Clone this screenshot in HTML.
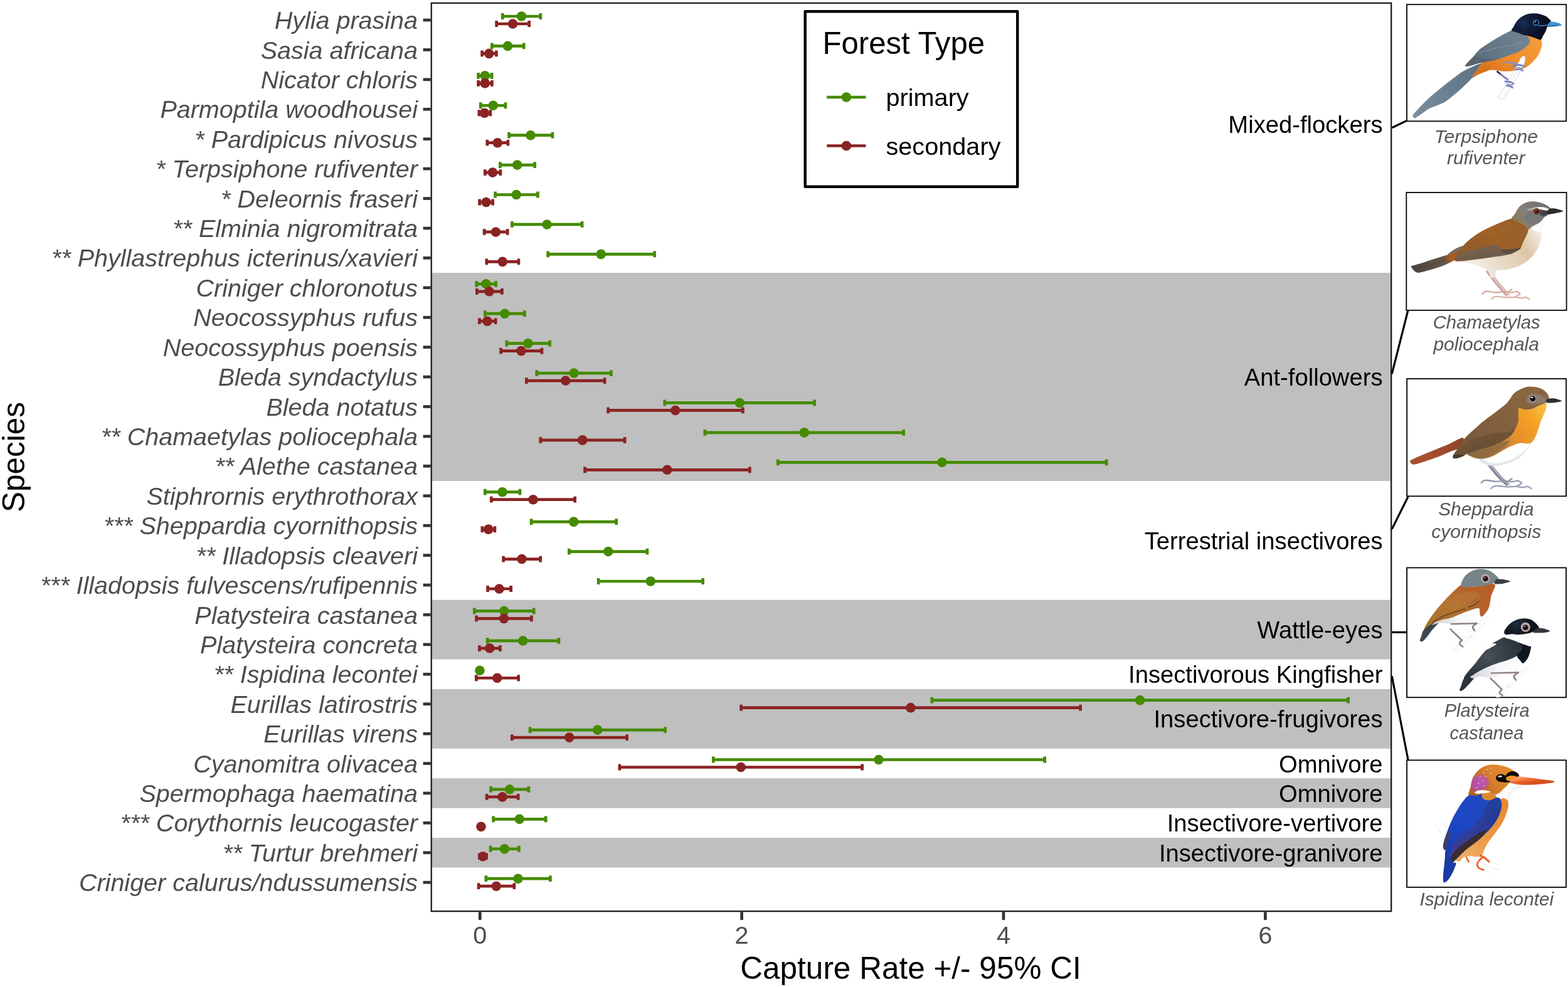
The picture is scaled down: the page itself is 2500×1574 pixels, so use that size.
<!DOCTYPE html>
<html lang="en"><head><meta charset="utf-8"><title>Capture Rate by Species and Forest Type</title>
<style>html,body{margin:0;padding:0;background:#fff;}body{width:2500px;height:1574px;overflow:hidden;}svg{display:block;}text{font-family:"Liberation Sans", sans-serif;}.sp{font-size:39.5px;font-style:italic;fill:#4d4d4d;text-anchor:end;}.tk{font-size:39.5px;fill:#4d4d4d;text-anchor:middle;}.gl{font-size:38.2px;fill:#000;text-anchor:end;}.ax{font-size:49.5px;fill:#000;text-anchor:middle;}.cap{font-size:29.5px;font-style:italic;fill:#555;text-anchor:middle;}</style></head><body>
<svg width="2500" height="1574" viewBox="0 0 2500 1574">
<rect x="0" y="0" width="2500" height="1574" fill="#fff"/>
<g fill="#bfbfbf">
<rect x="687.75" y="435.07" width="1530.45" height="331.94"/>
<rect x="687.75" y="956.69" width="1530.45" height="94.84"/>
<rect x="687.75" y="1098.95" width="1530.45" height="94.84"/>
<rect x="687.75" y="1241.21" width="1530.45" height="47.42"/>
<rect x="687.75" y="1336.05" width="1530.45" height="47.42"/>
</g>
<g>
<path d="M801.25 26.00H861.85M801.25 21.10V30.90M861.85 21.10V30.90" stroke="#458B00" stroke-width="4.7" fill="none"/><circle cx="831.50" cy="26.00" r="7.8" fill="#458B00"/>
<path d="M791.65 38.00H843.65M791.65 33.10V42.90M843.65 33.10V42.90" stroke="#8B2323" stroke-width="4.7" fill="none"/><circle cx="817.60" cy="38.00" r="7.8" fill="#8B2323"/>
<path d="M784.35 73.42H835.15M784.35 68.52V78.32M835.15 68.52V78.32" stroke="#458B00" stroke-width="4.7" fill="none"/><circle cx="809.50" cy="73.42" r="7.8" fill="#458B00"/>
<path d="M768.60 85.42H791.40M768.60 80.52V90.32M791.40 80.52V90.32" stroke="#8B2323" stroke-width="4.7" fill="none"/><circle cx="779.75" cy="85.42" r="7.8" fill="#8B2323"/>
<path d="M762.60 120.84H784.15M762.60 115.94V125.74M784.15 115.94V125.74" stroke="#458B00" stroke-width="4.7" fill="none"/><circle cx="773.25" cy="120.84" r="7.8" fill="#458B00"/>
<path d="M762.60 132.84H784.40M762.60 127.94V137.74M784.40 127.94V137.74" stroke="#8B2323" stroke-width="4.7" fill="none"/><circle cx="773.25" cy="132.84" r="7.8" fill="#8B2323"/>
<path d="M766.35 168.26H805.90M766.35 163.36V173.16M805.90 163.36V173.16" stroke="#458B00" stroke-width="4.7" fill="none"/><circle cx="786.25" cy="168.26" r="7.8" fill="#458B00"/>
<path d="M763.85 180.26H781.90M763.85 175.36V185.16M781.90 175.36V185.16" stroke="#8B2323" stroke-width="4.7" fill="none"/><circle cx="772.50" cy="180.26" r="7.8" fill="#8B2323"/>
<path d="M811.60 215.68H880.90M811.60 210.78V220.58M880.90 210.78V220.58" stroke="#458B00" stroke-width="4.7" fill="none"/><circle cx="846.00" cy="215.68" r="7.8" fill="#458B00"/>
<path d="M776.85 227.68H809.90M776.85 222.78V232.58M809.90 222.78V232.58" stroke="#8B2323" stroke-width="4.7" fill="none"/><circle cx="793.25" cy="227.68" r="7.8" fill="#8B2323"/>
<path d="M797.35 263.10H852.65M797.35 258.20V268.00M852.65 258.20V268.00" stroke="#458B00" stroke-width="4.7" fill="none"/><circle cx="824.75" cy="263.10" r="7.8" fill="#458B00"/>
<path d="M773.35 275.10H797.90M773.35 270.20V280.00M797.90 270.20V280.00" stroke="#8B2323" stroke-width="4.7" fill="none"/><circle cx="785.50" cy="275.10" r="7.8" fill="#8B2323"/>
<path d="M789.60 310.52H857.40M789.60 305.62V315.42M857.40 305.62V315.42" stroke="#458B00" stroke-width="4.7" fill="none"/><circle cx="823.25" cy="310.52" r="7.8" fill="#458B00"/>
<path d="M764.60 322.52H785.65M764.60 317.62V327.42M785.65 317.62V327.42" stroke="#8B2323" stroke-width="4.7" fill="none"/><circle cx="775.00" cy="322.52" r="7.8" fill="#8B2323"/>
<path d="M816.45 357.94H928.05M816.45 353.04V362.84M928.05 353.04V362.84" stroke="#458B00" stroke-width="4.7" fill="none"/><circle cx="872.10" cy="357.94" r="7.8" fill="#458B00"/>
<path d="M772.10 369.94H809.15M772.10 365.04V374.84M809.15 365.04V374.84" stroke="#8B2323" stroke-width="4.7" fill="none"/><circle cx="790.50" cy="369.94" r="7.8" fill="#8B2323"/>
<path d="M873.60 405.36H1043.65M873.60 400.46V410.26M1043.65 400.46V410.26" stroke="#458B00" stroke-width="4.7" fill="none"/><circle cx="958.25" cy="405.36" r="7.8" fill="#458B00"/>
<path d="M775.85 417.36H826.90M775.85 412.46V422.26M826.90 412.46V422.26" stroke="#8B2323" stroke-width="4.7" fill="none"/><circle cx="801.25" cy="417.36" r="7.8" fill="#8B2323"/>
<path d="M759.85 452.78H790.65M759.85 447.88V457.68M790.65 447.88V457.68" stroke="#458B00" stroke-width="4.7" fill="none"/><circle cx="775.00" cy="452.78" r="7.8" fill="#458B00"/>
<path d="M760.35 464.78H800.40M760.35 459.88V469.68M800.40 459.88V469.68" stroke="#8B2323" stroke-width="4.7" fill="none"/><circle cx="780.00" cy="464.78" r="7.8" fill="#8B2323"/>
<path d="M773.35 500.20H836.40M773.35 495.30V505.10M836.40 495.30V505.10" stroke="#458B00" stroke-width="4.7" fill="none"/><circle cx="804.75" cy="500.20" r="7.8" fill="#458B00"/>
<path d="M764.35 512.20H790.15M764.35 507.30V517.10M790.15 507.30V517.10" stroke="#8B2323" stroke-width="4.7" fill="none"/><circle cx="777.00" cy="512.20" r="7.8" fill="#8B2323"/>
<path d="M807.85 547.62H876.65M807.85 542.72V552.52M876.65 542.72V552.52" stroke="#458B00" stroke-width="4.7" fill="none"/><circle cx="842.00" cy="547.62" r="7.8" fill="#458B00"/>
<path d="M798.60 559.62H863.90M798.60 554.72V564.52M863.90 554.72V564.52" stroke="#8B2323" stroke-width="4.7" fill="none"/><circle cx="831.00" cy="559.62" r="7.8" fill="#8B2323"/>
<path d="M855.85 595.04H974.40M855.85 590.14V599.94M974.40 590.14V599.94" stroke="#458B00" stroke-width="4.7" fill="none"/><circle cx="915.00" cy="595.04" r="7.8" fill="#458B00"/>
<path d="M839.35 607.04H964.15M839.35 602.14V611.94M964.15 602.14V611.94" stroke="#8B2323" stroke-width="4.7" fill="none"/><circle cx="901.75" cy="607.04" r="7.8" fill="#8B2323"/>
<path d="M1059.85 642.46H1298.65M1059.85 637.56V647.36M1298.65 637.56V647.36" stroke="#458B00" stroke-width="4.7" fill="none"/><circle cx="1179.25" cy="642.46" r="7.8" fill="#458B00"/>
<path d="M969.60 654.46H1184.40M969.60 649.56V659.36M1184.40 649.56V659.36" stroke="#8B2323" stroke-width="4.7" fill="none"/><circle cx="1076.75" cy="654.46" r="7.8" fill="#8B2323"/>
<path d="M1123.85 689.88H1440.65M1123.85 684.98V694.78M1440.65 684.98V694.78" stroke="#458B00" stroke-width="4.7" fill="none"/><circle cx="1282.25" cy="689.88" r="7.8" fill="#458B00"/>
<path d="M861.85 701.88H996.15M861.85 696.98V706.78M996.15 696.98V706.78" stroke="#8B2323" stroke-width="4.7" fill="none"/><circle cx="928.75" cy="701.88" r="7.8" fill="#8B2323"/>
<path d="M1240.35 737.30H1764.15M1240.35 732.40V742.20M1764.15 732.40V742.20" stroke="#458B00" stroke-width="4.7" fill="none"/><circle cx="1502.00" cy="737.30" r="7.8" fill="#458B00"/>
<path d="M932.60 749.30H1195.40M932.60 744.40V754.20M1195.40 744.40V754.20" stroke="#8B2323" stroke-width="4.7" fill="none"/><circle cx="1063.75" cy="749.30" r="7.8" fill="#8B2323"/>
<path d="M773.35 784.72H828.90M773.35 779.82V789.62M828.90 779.82V789.62" stroke="#458B00" stroke-width="4.7" fill="none"/><circle cx="801.00" cy="784.72" r="7.8" fill="#458B00"/>
<path d="M783.35 796.72H916.65M783.35 791.82V801.62M916.65 791.82V801.62" stroke="#8B2323" stroke-width="4.7" fill="none"/><circle cx="850.00" cy="796.72" r="7.8" fill="#8B2323"/>
<path d="M847.10 832.14H982.65M847.10 827.24V837.04M982.65 827.24V837.04" stroke="#458B00" stroke-width="4.7" fill="none"/><circle cx="914.75" cy="832.14" r="7.8" fill="#458B00"/>
<path d="M768.85 844.14H788.90M768.85 839.24V849.04M788.90 839.24V849.04" stroke="#8B2323" stroke-width="4.7" fill="none"/><circle cx="778.75" cy="844.14" r="7.8" fill="#8B2323"/>
<path d="M907.35 879.56H1031.90M907.35 874.66V884.46M1031.90 874.66V884.46" stroke="#458B00" stroke-width="4.7" fill="none"/><circle cx="969.75" cy="879.56" r="7.8" fill="#458B00"/>
<path d="M802.60 891.56H861.65M802.60 886.66V896.46M861.65 886.66V896.46" stroke="#8B2323" stroke-width="4.7" fill="none"/><circle cx="832.00" cy="891.56" r="7.8" fill="#8B2323"/>
<path d="M954.10 926.98H1120.65M954.10 922.08V931.88M1120.65 922.08V931.88" stroke="#458B00" stroke-width="4.7" fill="none"/><circle cx="1037.25" cy="926.98" r="7.8" fill="#458B00"/>
<path d="M777.60 938.98H814.65M777.60 934.08V943.88M814.65 934.08V943.88" stroke="#8B2323" stroke-width="4.7" fill="none"/><circle cx="796.00" cy="938.98" r="7.8" fill="#8B2323"/>
<path d="M756.35 974.40H851.15M756.35 969.50V979.30M851.15 969.50V979.30" stroke="#458B00" stroke-width="4.7" fill="none"/><circle cx="803.75" cy="974.40" r="7.8" fill="#458B00"/>
<path d="M759.60 986.40H847.40M759.60 981.50V991.30M847.40 981.50V991.30" stroke="#8B2323" stroke-width="4.7" fill="none"/><circle cx="803.50" cy="986.40" r="7.8" fill="#8B2323"/>
<path d="M777.10 1021.82H890.90M777.10 1016.92V1026.72M890.90 1016.92V1026.72" stroke="#458B00" stroke-width="4.7" fill="none"/><circle cx="833.75" cy="1021.82" r="7.8" fill="#458B00"/>
<path d="M764.35 1033.82H797.40M764.35 1028.92V1038.72M797.40 1028.92V1038.72" stroke="#8B2323" stroke-width="4.7" fill="none"/><circle cx="780.75" cy="1033.82" r="7.8" fill="#8B2323"/>
<circle cx="765.00" cy="1069.24" r="7.8" fill="#458B00"/>
<path d="M759.35 1081.24H826.65M759.35 1076.34V1086.14M826.65 1076.34V1086.14" stroke="#8B2323" stroke-width="4.7" fill="none"/><circle cx="792.75" cy="1081.24" r="7.8" fill="#8B2323"/>
<path d="M1485.85 1116.66H2149.65M1485.85 1111.76V1121.56M2149.65 1111.76V1121.56" stroke="#458B00" stroke-width="4.7" fill="none"/><circle cx="1817.50" cy="1116.66" r="7.8" fill="#458B00"/>
<path d="M1181.60 1128.66H1722.65M1181.60 1123.76V1133.56M1722.65 1123.76V1133.56" stroke="#8B2323" stroke-width="4.7" fill="none"/><circle cx="1452.00" cy="1128.66" r="7.8" fill="#8B2323"/>
<path d="M845.10 1164.08H1060.65M845.10 1159.18V1168.98M1060.65 1159.18V1168.98" stroke="#458B00" stroke-width="4.7" fill="none"/><circle cx="952.75" cy="1164.08" r="7.8" fill="#458B00"/>
<path d="M816.35 1176.08H999.65M816.35 1171.18V1180.98M999.65 1171.18V1180.98" stroke="#8B2323" stroke-width="4.7" fill="none"/><circle cx="907.75" cy="1176.08" r="7.8" fill="#8B2323"/>
<path d="M1137.35 1211.50H1665.65M1137.35 1206.60V1216.40M1665.65 1206.60V1216.40" stroke="#458B00" stroke-width="4.7" fill="none"/><circle cx="1401.00" cy="1211.50" r="7.8" fill="#458B00"/>
<path d="M987.85 1223.50H1374.65M987.85 1218.60V1228.40M1374.65 1218.60V1228.40" stroke="#8B2323" stroke-width="4.7" fill="none"/><circle cx="1181.25" cy="1223.50" r="7.8" fill="#8B2323"/>
<path d="M782.60 1258.92H842.90M782.60 1254.02V1263.82M842.90 1254.02V1263.82" stroke="#458B00" stroke-width="4.7" fill="none"/><circle cx="812.50" cy="1258.92" r="7.8" fill="#458B00"/>
<path d="M776.10 1270.92H826.15M776.10 1266.02V1275.82M826.15 1266.02V1275.82" stroke="#8B2323" stroke-width="4.7" fill="none"/><circle cx="801.00" cy="1270.92" r="7.8" fill="#8B2323"/>
<path d="M786.60 1306.34H870.15M786.60 1301.44V1311.24M870.15 1301.44V1311.24" stroke="#458B00" stroke-width="4.7" fill="none"/><circle cx="828.25" cy="1306.34" r="7.8" fill="#458B00"/>
<circle cx="767.00" cy="1318.34" r="7.8" fill="#8B2323"/>
<path d="M782.10 1353.76H827.40M782.10 1348.86V1358.66M827.40 1348.86V1358.66" stroke="#458B00" stroke-width="4.7" fill="none"/><circle cx="804.50" cy="1353.76" r="7.8" fill="#458B00"/>
<path d="M764.35 1365.76H775.65M764.35 1360.86V1370.66M775.65 1360.86V1370.66" stroke="#8B2323" stroke-width="4.7" fill="none"/><circle cx="770.00" cy="1365.76" r="7.8" fill="#8B2323"/>
<path d="M774.85 1401.18H877.40M774.85 1396.28V1406.08M877.40 1396.28V1406.08" stroke="#458B00" stroke-width="4.7" fill="none"/><circle cx="826.00" cy="1401.18" r="7.8" fill="#458B00"/>
<path d="M763.10 1413.18H819.90M763.10 1408.28V1418.08M819.90 1408.28V1418.08" stroke="#8B2323" stroke-width="4.7" fill="none"/><circle cx="791.25" cy="1413.18" r="7.8" fill="#8B2323"/>
</g>
<text class="gl" x="2204.5" y="211.60">Mixed-flockers</text>
<text class="gl" x="2204.5" y="615.14">Ant-followers</text>
<text class="gl" x="2204.5" y="875.95">Terrestrial insectivores</text>
<text class="gl" x="2204.5" y="1018.21">Wattle-eyes</text>
<text class="gl" x="2204.5" y="1089.34">Insectivorous Kingfisher</text>
<text class="gl" x="2204.5" y="1160.47">Insectivore-frugivores</text>
<text class="gl" x="2204.5" y="1231.60">Omnivore</text>
<text class="gl" x="2204.5" y="1279.02">Omnivore</text>
<text class="gl" x="2204.5" y="1326.44">Insectivore-vertivore</text>
<text class="gl" x="2204.5" y="1373.86">Insectivore-granivore</text>
<rect x="687.75" y="4.90" width="1530.45" height="1448.30" fill="none" stroke="#1f1f1f" stroke-width="2.3"/>
<g stroke="#333" stroke-width="4.7">
<line x1="674.6" x2="686.7" y1="32.00" y2="32.00"/>
<line x1="674.6" x2="686.7" y1="79.42" y2="79.42"/>
<line x1="674.6" x2="686.7" y1="126.84" y2="126.84"/>
<line x1="674.6" x2="686.7" y1="174.26" y2="174.26"/>
<line x1="674.6" x2="686.7" y1="221.68" y2="221.68"/>
<line x1="674.6" x2="686.7" y1="269.10" y2="269.10"/>
<line x1="674.6" x2="686.7" y1="316.52" y2="316.52"/>
<line x1="674.6" x2="686.7" y1="363.94" y2="363.94"/>
<line x1="674.6" x2="686.7" y1="411.36" y2="411.36"/>
<line x1="674.6" x2="686.7" y1="458.78" y2="458.78"/>
<line x1="674.6" x2="686.7" y1="506.20" y2="506.20"/>
<line x1="674.6" x2="686.7" y1="553.62" y2="553.62"/>
<line x1="674.6" x2="686.7" y1="601.04" y2="601.04"/>
<line x1="674.6" x2="686.7" y1="648.46" y2="648.46"/>
<line x1="674.6" x2="686.7" y1="695.88" y2="695.88"/>
<line x1="674.6" x2="686.7" y1="743.30" y2="743.30"/>
<line x1="674.6" x2="686.7" y1="790.72" y2="790.72"/>
<line x1="674.6" x2="686.7" y1="838.14" y2="838.14"/>
<line x1="674.6" x2="686.7" y1="885.56" y2="885.56"/>
<line x1="674.6" x2="686.7" y1="932.98" y2="932.98"/>
<line x1="674.6" x2="686.7" y1="980.40" y2="980.40"/>
<line x1="674.6" x2="686.7" y1="1027.82" y2="1027.82"/>
<line x1="674.6" x2="686.7" y1="1075.24" y2="1075.24"/>
<line x1="674.6" x2="686.7" y1="1122.66" y2="1122.66"/>
<line x1="674.6" x2="686.7" y1="1170.08" y2="1170.08"/>
<line x1="674.6" x2="686.7" y1="1217.50" y2="1217.50"/>
<line x1="674.6" x2="686.7" y1="1264.92" y2="1264.92"/>
<line x1="674.6" x2="686.7" y1="1312.34" y2="1312.34"/>
<line x1="674.6" x2="686.7" y1="1359.76" y2="1359.76"/>
<line x1="674.6" x2="686.7" y1="1407.18" y2="1407.18"/>
</g>
<text class="sp" x="666" y="46.10">Hylia prasina</text>
<text class="sp" x="666" y="93.52">Sasia africana</text>
<text class="sp" x="666" y="140.94">Nicator chloris</text>
<text class="sp" x="666" y="188.36">Parmoptila woodhousei</text>
<text class="sp" x="666" y="235.78">* Pardipicus nivosus</text>
<text class="sp" x="666" y="283.20">* Terpsiphone rufiventer</text>
<text class="sp" x="666" y="330.62">* Deleornis fraseri</text>
<text class="sp" x="666" y="378.04">** Elminia nigromitrata</text>
<text class="sp" x="666" y="425.46">** Phyllastrephus icterinus/xavieri</text>
<text class="sp" x="666" y="472.88">Criniger chloronotus</text>
<text class="sp" x="666" y="520.30">Neocossyphus rufus</text>
<text class="sp" x="666" y="567.72">Neocossyphus poensis</text>
<text class="sp" x="666" y="615.14">Bleda syndactylus</text>
<text class="sp" x="666" y="662.56">Bleda notatus</text>
<text class="sp" x="666" y="709.98">** Chamaetylas poliocephala</text>
<text class="sp" x="666" y="757.40">** Alethe castanea</text>
<text class="sp" x="666" y="804.82">Stiphrornis erythrothorax</text>
<text class="sp" x="666" y="852.24">*** Sheppardia cyornithopsis</text>
<text class="sp" x="666" y="899.66">** Illadopsis cleaveri</text>
<text class="sp" x="666" y="947.08">*** Illadopsis fulvescens/rufipennis</text>
<text class="sp" x="666" y="994.50">Platysteira castanea</text>
<text class="sp" x="666" y="1041.92">Platysteira concreta</text>
<text class="sp" x="666" y="1089.34">** Ispidina lecontei</text>
<text class="sp" x="666" y="1136.76">Eurillas latirostris</text>
<text class="sp" x="666" y="1184.18">Eurillas virens</text>
<text class="sp" x="666" y="1231.60">Cyanomitra olivacea</text>
<text class="sp" x="666" y="1279.02">Spermophaga haematina</text>
<text class="sp" x="666" y="1326.44">*** Corythornis leucogaster</text>
<text class="sp" x="666" y="1373.86">** Turtur brehmeri</text>
<text class="sp" x="666" y="1421.28">Criniger calurus/ndussumensis</text>
<g stroke="#333" stroke-width="4.7">
<line x1="765.30" x2="765.30" y1="1454.2" y2="1467.1"/>
<line x1="1182.60" x2="1182.60" y1="1454.2" y2="1467.1"/>
<line x1="1600.00" x2="1600.00" y1="1454.2" y2="1467.1"/>
<line x1="2017.40" x2="2017.40" y1="1454.2" y2="1467.1"/>
</g>
<text class="tk" x="765.30" y="1505.4">0</text>
<text class="tk" x="1182.60" y="1505.4">2</text>
<text class="tk" x="1600.00" y="1505.4">4</text>
<text class="tk" x="2017.40" y="1505.4">6</text>
<text class="ax" x="1452" y="1561.2">Capture Rate +/- 95% CI</text>
<text class="ax" transform="translate(38.8 729) rotate(-90)" x="0" y="0">Species</text>
<rect x="1283.75" y="18.25" width="338.5" height="279.5" fill="#fff" stroke="#000" stroke-width="4.5" stroke-linejoin="round"/>
<text x="1311.5" y="86.3" style="font-size:49.5px;fill:#000" textLength="258.6" lengthAdjust="spacingAndGlyphs">Forest Type</text>
<line x1="1318.25" x2="1380.5" y1="155.00" y2="155.00" stroke="#458B00" stroke-width="4.7"/>
<circle cx="1349.4" cy="155.00" r="7.85" fill="#458B00"/>
<text x="1412.4" y="169.30" style="font-size:39.7px;fill:#000">primary</text>
<line x1="1318.25" x2="1380.5" y1="232.50" y2="232.50" stroke="#8B2323" stroke-width="4.7"/>
<circle cx="1349.4" cy="232.50" r="7.85" fill="#8B2323"/>
<text x="1412.4" y="246.80" style="font-size:39.7px;fill:#000">secondary</text>
<g stroke="#000" stroke-width="3.2" fill="none" stroke-linecap="butt">
<path d="M2219.3 203.7L2246.6 190.6"/>
<path d="M2219.2 596.4L2244.9 494.9"/>
<path d="M2219.2 843.9L2245.1 792"/>
<path d="M2219.2 1008.3H2243"/>
<path d="M2219.2 1078L2245.1 1212"/>
</g>
<g fill="#fff" stroke="#000" stroke-width="1.8">
<rect x="2243.00" y="7.20" width="254.20" height="186.10"/>
<rect x="2242.30" y="307.00" width="255.30" height="187.80"/>
<rect x="2243.20" y="604.00" width="253.90" height="187.30"/>
<rect x="2243.10" y="905.40" width="253.90" height="206.80"/>
<rect x="2243.10" y="1212.30" width="253.90" height="202.60"/>
</g>
<defs><filter id="sf" x="-20%" y="-20%" width="140%" height="140%"><feGaussianBlur stdDeviation="16"/></filter><filter id="sf2" x="-20%" y="-20%" width="140%" height="140%"><feGaussianBlur stdDeviation="7"/></filter><linearGradient id="b1tail" gradientUnits="userSpaceOnUse" x1="100" y1="1400" x2="950" y2="780"><stop offset="0" stop-color="#7d909f"/><stop offset="0.5" stop-color="#6b8193"/><stop offset="1" stop-color="#5c7182"/></linearGradient><linearGradient id="b1wing" gradientUnits="userSpaceOnUse" x1="800" y1="800" x2="1400" y2="400"><stop offset="0" stop-color="#586a78"/><stop offset="0.5" stop-color="#667988"/><stop offset="1" stop-color="#728494"/></linearGradient><linearGradient id="b1belly" gradientUnits="userSpaceOnUse" x1="1550" y1="450" x2="1050" y2="900"><stop offset="0" stop-color="#f59b3c"/><stop offset="0.55" stop-color="#ef8c2a"/><stop offset="1" stop-color="#dd781e"/></linearGradient><radialGradient id="b1head" gradientUnits="userSpaceOnUse" cx="1430" cy="280" r="330"><stop offset="0" stop-color="#172d58"/><stop offset="0.3" stop-color="#101d3a"/><stop offset="0.7" stop-color="#0a1226"/><stop offset="1" stop-color="#070b18"/></radialGradient><clipPath id="c1w"><path d="M1290 370C1255 378 1198 413 1150 440C1102 467 1042 503 1000 530C958 557 928 575 900 600C872 625 858 648 830 680C802 712 735 776 730 795C725 814 772 798 800 792C828 786 867 770 900 762C933 754 967 749 1000 742C1033 735 1058 734 1100 722C1142 710 1200 690 1250 672C1300 654 1360 634 1400 612C1440 590 1471 562 1490 542C1509 522 1514 507 1512 490C1510 473 1492 451 1480 440C1468 429 1460 430 1440 422C1420 414 1385 401 1360 392C1335 383 1325 362 1290 370Z"/></clipPath><clipPath id="c1t"><path d="M950 760C929 758 859 788 820 805C781 822 740 838 690 870C640 902 550 973 490 1020C430 1067 342 1138 290 1185C238 1232 174 1304 145 1335C116 1366 101 1382 95 1395C89 1408 102 1420 108 1424C114 1428 110 1437 138 1420C166 1403 262 1332 295 1312C328 1292 335 1296 355 1288C375 1280 406 1268 428 1258C450 1248 472 1241 500 1222C528 1203 577 1162 612 1132C647 1102 705 1050 735 1022C765 994 790 962 812 944C834 926 858 919 880 900C902 881 950 841 960 820C970 799 971 762 950 760Z"/></clipPath><linearGradient id="b2tail" gradientUnits="userSpaceOnUse" x1="80" y1="980" x2="720" y2="760"><stop offset="0" stop-color="#4c443d"/><stop offset="0.6" stop-color="#66574a"/><stop offset="0.72" stop-color="#a55a24"/><stop offset="1" stop-color="#b2601f"/></linearGradient><linearGradient id="b2back" gradientUnits="userSpaceOnUse" x1="700" y1="850" x2="1400" y2="400"><stop offset="0" stop-color="#8f5b2c"/><stop offset="0.5" stop-color="#9f6226"/><stop offset="1" stop-color="#98612b"/></linearGradient><linearGradient id="b2belly" gradientUnits="userSpaceOnUse" x1="1640" y1="500" x2="850" y2="1000"><stop offset="0" stop-color="#f6f2ec"/><stop offset="0.3" stop-color="#dcc6a8"/><stop offset="0.65" stop-color="#e8d9c5"/><stop offset="1" stop-color="#f3f0ea"/></linearGradient><linearGradient id="b2head" gradientUnits="userSpaceOnUse" x1="1330" y1="420" x2="1700" y2="180"><stop offset="0" stop-color="#8a7a58"/><stop offset="0.4" stop-color="#84807a"/><stop offset="1" stop-color="#6f6e6a"/></linearGradient><clipPath id="c2b"><path d="M1290 370C1243 375 1157 417 1100 440C1043 463 992 488 950 510C908 532 882 548 850 570C818 592 785 618 760 640C735 662 720 680 700 700C680 720 657 731 640 760C623 789 590 852 600 872C610 892 658 884 700 882C742 880 800 869 850 862C900 855 942 852 1000 842C1058 832 1142 815 1200 802C1258 789 1317 775 1350 762C1383 749 1387 741 1400 722C1413 703 1418 675 1430 650C1442 625 1460 595 1470 570C1480 545 1493 520 1490 500C1487 480 1468 465 1450 450C1432 435 1407 423 1380 410C1353 397 1337 365 1290 370Z"/></clipPath><clipPath id="c2f"><path d="M600 872C575 864 630 835 650 820C670 805 678 795 720 780C762 765 837 746 900 730C963 714 1057 682 1100 685C1143 688 1135 726 1160 745C1185 764 1277 784 1250 800C1223 816 1075 831 1000 842C925 853 867 861 800 866C733 871 625 880 600 872Z"/></clipPath><linearGradient id="b3tail" gradientUnits="userSpaceOnUse" x1="60" y1="1060" x2="700" y2="800"><stop offset="0" stop-color="#a9512f"/><stop offset="0.5" stop-color="#a24c2d"/><stop offset="1" stop-color="#8f4428"/></linearGradient><linearGradient id="b3body" gradientUnits="userSpaceOnUse" x1="650" y1="1000" x2="1500" y2="200"><stop offset="0" stop-color="#72553a"/><stop offset="0.5" stop-color="#82603e"/><stop offset="1" stop-color="#896540"/></linearGradient><linearGradient id="b3breast" gradientUnits="userSpaceOnUse" x1="1680" y1="380" x2="900" y2="1000"><stop offset="0" stop-color="#f8c040"/><stop offset="0.2" stop-color="#f5a326"/><stop offset="0.48" stop-color="#e8902a"/><stop offset="0.72" stop-color="#b98345"/><stop offset="1" stop-color="#8a6a44"/></linearGradient><clipPath id="c3w"><path d="M585 1005C580 995 601 964 620 940C639 916 670 885 700 860C730 835 758 810 800 790C842 770 900 755 950 740C1000 725 1050 708 1100 700C1150 692 1212 698 1250 690C1288 682 1325 643 1330 650C1335 657 1305 705 1280 730C1255 755 1218 778 1180 800C1142 822 1097 843 1050 860C1003 877 948 885 900 900C852 915 802 933 760 950C718 967 679 991 650 1000C621 1009 590 1015 585 1005Z"/></clipPath><linearGradient id="b4abody" gradientUnits="userSpaceOnUse" x1="250" y1="700" x2="950" y2="250"><stop offset="0" stop-color="#a8702e"/><stop offset="0.4" stop-color="#b4742f"/><stop offset="0.7" stop-color="#b4612a"/><stop offset="1" stop-color="#b85f2a"/></linearGradient><linearGradient id="b4abelly" gradientUnits="userSpaceOnUse" x1="820" y1="480" x2="400" y2="680"><stop offset="0" stop-color="#ffffff"/><stop offset="0.55" stop-color="#f8f8fa"/><stop offset="1" stop-color="#d8d8de"/></linearGradient><linearGradient id="b4bbelly" gradientUnits="userSpaceOnUse" x1="1280" y1="1020" x2="800" y2="1240"><stop offset="0" stop-color="#ffffff"/><stop offset="0.55" stop-color="#f8f8fa"/><stop offset="1" stop-color="#d8d8de"/></linearGradient><linearGradient id="b4bwing" gradientUnits="userSpaceOnUse" x1="680" y1="1230" x2="1250" y2="850"><stop offset="0" stop-color="#2c353e"/><stop offset="0.45" stop-color="#464f58"/><stop offset="1" stop-color="#2a323b"/></linearGradient><radialGradient id="b4bhead" gradientUnits="userSpaceOnUse" cx="1230" cy="650" r="240"><stop offset="0" stop-color="#1f2d3a"/><stop offset="0.6" stop-color="#0f171f"/><stop offset="1" stop-color="#0a1016"/></radialGradient><clipPath id="c4f"><path d="M615 230C628 229 639 248 660 250C681 252 713 247 740 245C767 243 793 243 820 240C847 237 877 230 900 225C923 220 945 209 960 210C975 211 990 220 992 232C994 244 982 262 975 280C968 298 957 317 950 340C943 363 940 397 935 420C930 443 928 462 920 480C912 498 902 515 890 530C878 545 860 567 850 572C840 577 832 572 827 560C822 548 824 513 820 500C816 487 820 478 800 480C780 482 733 498 700 510C667 522 633 537 600 550C567 563 533 580 500 590C467 600 433 602 400 612C367 622 328 637 300 652C272 667 245 689 230 700C215 711 206 726 208 718C210 710 225 676 240 650C255 624 278 590 300 560C322 530 345 500 370 470C395 440 423 408 450 380C477 352 508 321 530 300C552 279 566 267 580 255C594 243 602 231 615 230Z"/></clipPath><clipPath id="c4m"><path d="M1100 800C1078 802 1053 818 1030 830C1007 842 982 853 960 870C938 887 920 908 900 930C880 952 860 975 840 1000C820 1025 800 1055 780 1080C760 1105 738 1128 720 1150C702 1172 682 1192 670 1210C658 1228 642 1251 650 1255C658 1259 695 1244 720 1232C745 1220 770 1199 800 1182C830 1165 867 1147 900 1132C933 1117 967 1104 1000 1092C1033 1080 1070 1072 1100 1062C1130 1052 1158 1042 1180 1032C1202 1022 1215 1016 1230 1002C1245 988 1262 967 1270 950C1278 933 1285 917 1280 900C1275 883 1260 863 1240 850C1220 837 1183 828 1160 820C1137 812 1122 798 1100 800Z"/></clipPath><linearGradient id="b5head" gradientUnits="userSpaceOnUse" x1="750" y1="400" x2="1200" y2="120"><stop offset="0" stop-color="#b9601f"/><stop offset="0.5" stop-color="#d9802a"/><stop offset="1" stop-color="#e48e30"/></linearGradient><radialGradient id="b5purple" gradientUnits="userSpaceOnUse" cx="820" cy="300" r="150"><stop offset="0" stop-color="#b44ee0"/><stop offset="0.55" stop-color="#b048cc"/><stop offset="1" stop-color="#a84aa0"/></radialGradient><linearGradient id="b5blue" gradientUnits="userSpaceOnUse" x1="450" y1="1000" x2="1000" y2="480"><stop offset="0" stop-color="#1c3eb0"/><stop offset="0.45" stop-color="#1e48c6"/><stop offset="1" stop-color="#1d48bc"/></linearGradient><linearGradient id="b5wing" gradientUnits="userSpaceOnUse" x1="560" y1="1100" x2="1060" y2="520"><stop offset="0" stop-color="#3b3c8e"/><stop offset="0.5" stop-color="#2d3f9f"/><stop offset="1" stop-color="#21409a"/></linearGradient><linearGradient id="b5belly" gradientUnits="userSpaceOnUse" x1="1130" y1="500" x2="700" y2="1120"><stop offset="0" stop-color="#e8882e"/><stop offset="0.5" stop-color="#ea9440"/><stop offset="1" stop-color="#eeaa60"/></linearGradient><linearGradient id="b5beak" gradientUnits="userSpaceOnUse" x1="1300" y1="235" x2="1320" y2="320"><stop offset="0" stop-color="#f79a62"/><stop offset="0.45" stop-color="#f26a30"/><stop offset="1" stop-color="#da521f"/></linearGradient><clipPath id="c5w"><path d="M930 490C950 470 980 462 1000 460C1020 458 1040 463 1050 480C1060 497 1064 533 1062 560C1060 587 1050 613 1040 640C1030 667 1017 693 1000 720C983 747 963 773 940 800C917 827 887 855 860 880C833 905 807 928 780 950C753 972 727 988 700 1010C673 1032 643 1058 620 1080C597 1102 577 1125 560 1140C543 1155 530 1179 520 1172C510 1165 500 1129 500 1100C500 1071 503 1033 520 1000C537 967 567 933 600 900C633 867 683 835 720 800C757 765 793 727 820 690C847 653 862 613 880 580C898 547 910 510 930 490Z"/></clipPath><clipPath id="c5h"><path d="M700 440C690 425 713 380 720 350C727 320 730 287 740 260C750 233 762 212 780 190C798 168 823 145 850 130C877 115 908 104 940 100C972 96 1008 100 1040 105C1072 110 1103 119 1130 130C1157 141 1180 157 1200 170C1220 183 1243 198 1250 210C1257 222 1255 227 1240 240C1225 253 1180 275 1160 290C1140 305 1133 317 1120 330C1107 343 1093 357 1080 370C1067 383 1053 400 1040 410C1027 420 1017 432 1000 432C983 432 965 414 940 412C915 410 877 417 850 422C823 427 805 439 780 442C755 445 710 455 700 440Z"/></clipPath></defs>
<g transform="translate(2240 0) scale(0.13191)"><path d="M950 760C929 758 859 788 820 805C781 822 740 838 690 870C640 902 550 973 490 1020C430 1067 342 1138 290 1185C238 1232 174 1304 145 1335C116 1366 101 1382 95 1395C89 1408 102 1420 108 1424C114 1428 110 1437 138 1420C166 1403 262 1332 295 1312C328 1292 335 1296 355 1288C375 1280 406 1268 428 1258C450 1248 472 1241 500 1222C528 1203 577 1162 612 1132C647 1102 705 1050 735 1022C765 994 790 962 812 944C834 926 858 919 880 900C902 881 950 841 960 820C970 799 971 762 950 760Z" fill="url(#b1tail)"/><path d="M100 1369L900 769M114 1386L914 786M128 1407L928 807M142 1421L942 821M156 1442L956 842M170 1459L970 859M184 1475L984 875" clip-path="url(#c1t)" fill="none" stroke="#4f6273" stroke-width="5" opacity="0.35"/><path d="M1440 425C1467 416 1527 436 1560 445C1593 454 1624 462 1640 476C1656 490 1656 508 1656 530C1656 552 1649 579 1640 605C1631 631 1617 660 1600 685C1583 710 1562 731 1540 752C1518 773 1497 794 1470 810C1443 826 1412 838 1380 846C1348 854 1313 857 1280 860C1247 863 1210 864 1180 862C1150 860 1125 853 1100 850C1075 847 1053 842 1030 846C1007 850 985 863 960 872C935 881 906 893 880 902C854 911 810 932 805 928C800 924 834 901 850 880C866 859 875 830 900 800C925 770 950 733 1000 700C1050 667 1133 633 1200 600C1267 567 1360 529 1400 500C1440 471 1413 434 1440 425Z" fill="url(#b1belly)"/><path d="M880 860C897 842 932 812 960 800C988 788 1042 782 1050 790C1058 798 1028 831 1010 845C992 859 965 862 940 872C915 882 870 907 860 905C850 903 863 878 880 860Z" fill="#cf6f1c" opacity="0.6" filter="url(#sf2)"/><path d="M1410 690C1422 680 1446 674 1452 686C1458 698 1456 730 1446 760C1436 790 1414 831 1395 865C1376 899 1355 932 1335 965C1315 998 1298 1028 1275 1065C1252 1102 1220 1169 1195 1188C1170 1207 1128 1197 1128 1178C1128 1159 1170 1108 1192 1072C1214 1036 1239 1002 1262 962C1285 922 1311 871 1330 835C1349 799 1365 769 1378 745C1391 721 1398 700 1410 690Z" fill="#fdfdfd" stroke="#c4c4ca" stroke-width="5"/><path d="M1405 770C1397 786 1373 833 1355 865C1337 897 1305 946 1295 962" fill="none" stroke="#dadade" stroke-width="5" stroke-linecap="round" stroke-linejoin="round"/><path d="M1250 1090C1242 1099 1208 1136 1200 1145" fill="none" stroke="#c4c4c8" stroke-width="4" stroke-linecap="round" stroke-linejoin="round"/><path d="M1134 752L1250 746L1345 756L1350 782L1250 766Z" fill="#8b90c8"/><path d="M1117 866C1127 874 1154 896 1175 912C1196 928 1229 952 1240 960" fill="none" stroke="#777dba" stroke-width="22" stroke-linecap="round" stroke-linejoin="round"/><path d="M1117 866C1122 870 1144 886 1150 890" fill="none" stroke="#2b3058" stroke-width="18" stroke-linecap="round" stroke-linejoin="round"/><path d="M1310 800C1320 798 1348 785 1370 785C1392 785 1428 798 1440 800" fill="none" stroke="#7a83c6" stroke-width="22" stroke-linecap="round" stroke-linejoin="round"/><path d="M1335 842C1344 841 1375 836 1390 838C1405 840 1419 850 1425 852" fill="none" stroke="#7a83c6" stroke-width="20" stroke-linecap="round" stroke-linejoin="round"/><path d="M1345 818C1358 819 1408 823 1420 824" fill="none" stroke="#2d3258" stroke-width="7" stroke-linecap="round" stroke-linejoin="round"/><path d="M1212 985C1222 986 1253 986 1270 990C1287 994 1305 1008 1312 1012" fill="none" stroke="#7a83c6" stroke-width="22" stroke-linecap="round" stroke-linejoin="round"/><path d="M1228 1035C1235 1036 1258 1038 1270 1042C1282 1046 1295 1057 1300 1060" fill="none" stroke="#7a83c6" stroke-width="20" stroke-linecap="round" stroke-linejoin="round"/><path d="M1235 1012C1246 1016 1289 1030 1300 1034" fill="none" stroke="#2d3258" stroke-width="7" stroke-linecap="round" stroke-linejoin="round"/><path d="M1290 370C1255 378 1198 413 1150 440C1102 467 1042 503 1000 530C958 557 928 575 900 600C872 625 858 648 830 680C802 712 735 776 730 795C725 814 772 798 800 792C828 786 867 770 900 762C933 754 967 749 1000 742C1033 735 1058 734 1100 722C1142 710 1200 690 1250 672C1300 654 1360 634 1400 612C1440 590 1471 562 1490 542C1509 522 1514 507 1512 490C1510 473 1492 451 1480 440C1468 429 1460 430 1440 422C1420 414 1385 401 1360 392C1335 383 1325 362 1290 370Z" fill="url(#b1wing)"/><path d="M830 690C802 705 735 778 730 795C725 812 772 798 800 792C828 786 867 770 900 762C933 754 967 749 1000 742C1033 735 1100 727 1100 722C1100 717 1033 715 1000 712C967 709 928 709 900 705C872 701 858 675 830 690Z" fill="#56646f"/><path d="M760 780L1480 470M760 748L1480 438M760 723L1480 413M760 693L1480 383M760 665L1480 355M760 639L1480 329M760 615L1480 305" clip-path="url(#c1w)" fill="none" stroke="#52626f" stroke-width="5" opacity="0.4"/><path d="M900 640C933 630 1037 596 1100 580C1163 564 1227 558 1280 545C1333 532 1397 508 1420 500" fill="none" stroke="#8a9cab" stroke-width="10" stroke-linecap="round" stroke-linejoin="round" opacity="0.6"/><path d="M1290 370C1282 359 1300 348 1310 330C1320 312 1335 280 1350 260C1365 240 1380 224 1400 210C1420 196 1445 183 1470 175C1495 167 1523 163 1550 162C1577 161 1605 164 1630 170C1655 176 1681 185 1700 195C1719 205 1734 219 1745 230C1756 241 1764 250 1765 262C1766 274 1757 290 1750 300C1743 310 1730 312 1722 325C1714 338 1709 362 1700 380C1691 398 1680 415 1670 432C1660 449 1658 476 1640 480C1622 484 1587 463 1560 455C1533 447 1500 437 1480 432C1460 427 1460 431 1440 425C1420 419 1385 404 1360 395C1335 386 1298 381 1290 370Z" fill="url(#b1head)"/><path d="M1622 312C1635 311 1677 308 1700 306C1723 304 1750 301 1760 300" fill="none" stroke="#3f8ed0" stroke-width="11" stroke-linecap="round" stroke-linejoin="round"/><path d="M1755 262Q1820 258 1870 282Q1898 298 1896 316Q1880 306 1860 312L1790 320L1730 322L1722 300Z" fill="#3f97dc"/><path d="M1730 308L1800 306L1870 306L1860 313L1790 321L1730 323Z" fill="#2a5f9c"/><circle cx="1585" cy="275" r="38" fill="#3a8de0"/><circle cx="1585" cy="273" r="27" fill="#05070c"/><circle cx="1577" cy="263" r="7" fill="#fff"/></g>
<g transform="translate(2240 300) scale(0.13191)"><path d="M985 1000C1004 1025 1059 1100 1100 1150C1141 1200 1210 1277 1232 1302" fill="none" stroke="#c9a29b" stroke-width="24" stroke-linecap="butt" stroke-linejoin="round"/><path d="M1018 1000C1038 1025 1094 1101 1135 1150C1176 1199 1241 1272 1262 1296" fill="none" stroke="#ddb9b2" stroke-width="22" stroke-linecap="butt" stroke-linejoin="round"/><path d="M935 1280C940 1275 952 1257 965 1252C978 1247 988 1246 1010 1248C1032 1250 1068 1262 1100 1262C1132 1262 1183 1252 1200 1250" fill="none" stroke="#d4aaa3" stroke-width="18" stroke-linecap="round" stroke-linejoin="round"/><path d="M1200 1250C1215 1252 1265 1262 1290 1262C1315 1262 1333 1247 1350 1250C1367 1253 1385 1273 1392 1278" fill="none" stroke="#d4aaa3" stroke-width="17" stroke-linecap="round" stroke-linejoin="round"/><path d="M1240 1262C1248 1256 1282 1231 1290 1225" fill="none" stroke="#d4aaa3" stroke-width="18" stroke-linecap="round" stroke-linejoin="round"/><path d="M1046 1342C1052 1337 1066 1319 1080 1314C1094 1309 1105 1311 1130 1312C1155 1313 1197 1321 1230 1322C1263 1323 1313 1319 1330 1318" fill="none" stroke="#dcb4ad" stroke-width="18" stroke-linecap="round" stroke-linejoin="round"/><path d="M1330 1318C1343 1320 1388 1330 1410 1330C1432 1330 1444 1316 1460 1318C1476 1320 1497 1340 1504 1344" fill="none" stroke="#dcb4ad" stroke-width="17" stroke-linecap="round" stroke-linejoin="round"/><path d="M1330 1318C1338 1313 1372 1293 1380 1288" fill="none" stroke="#dcb4ad" stroke-width="18" stroke-linecap="round" stroke-linejoin="round"/><path d="M75 950C80 964 116 1016 150 1022C184 1028 255 1002 300 990C345 978 411 957 450 942C489 927 532 906 560 892C588 878 619 865 640 850C661 835 688 812 700 790C712 768 729 707 720 700C711 693 664 728 640 742C616 756 592 776 560 790C528 804 476 817 430 832C384 847 296 875 250 890C204 905 146 921 120 930C94 939 70 936 75 950Z" fill="url(#b2tail)"/><path d="M120 975C150 968 237 949 300 930C363 911 467 872 500 860" fill="none" stroke="#3d3630" stroke-width="7" stroke-linecap="round" stroke-linejoin="round" opacity="0.5"/><path d="M1530 470C1570 457 1620 498 1640 520C1660 542 1650 570 1647 600C1644 630 1634 667 1620 700C1606 733 1583 770 1560 800C1537 830 1510 857 1480 880C1450 903 1418 923 1380 940C1342 957 1295 972 1250 982C1205 992 1136 984 1110 997C1084 1010 1107 1045 1095 1060C1083 1075 1056 1096 1040 1085C1024 1074 1023 1017 1000 995C977 973 930 964 900 952C870 940 850 930 820 922C790 914 757 909 720 902C683 895 587 891 600 882C613 873 733 864 800 850C867 836 933 825 1000 800C1067 775 1133 733 1200 700C1267 667 1345 638 1400 600C1455 562 1490 483 1530 470Z" fill="url(#b2belly)"/><path d="M1730 318C1732 325 1712 356 1702 380C1692 404 1678 435 1668 460C1658 485 1660 519 1642 528C1624 537 1579 522 1560 512C1541 502 1523 484 1530 470C1537 456 1580 443 1600 430C1620 417 1635 405 1650 390C1665 375 1677 352 1690 340C1703 328 1728 311 1730 318Z" fill="#fcfcfc"/><path d="M1290 370C1243 375 1157 417 1100 440C1043 463 992 488 950 510C908 532 882 548 850 570C818 592 785 618 760 640C735 662 720 680 700 700C680 720 657 731 640 760C623 789 590 852 600 872C610 892 658 884 700 882C742 880 800 869 850 862C900 855 942 852 1000 842C1058 832 1142 815 1200 802C1258 789 1317 775 1350 762C1383 749 1387 741 1400 722C1413 703 1418 675 1430 650C1442 625 1460 595 1470 570C1480 545 1493 520 1490 500C1487 480 1468 465 1450 450C1432 435 1407 423 1380 410C1353 397 1337 365 1290 370Z" fill="url(#b2back)"/><path d="M600 872C575 864 630 835 650 820C670 805 678 795 720 780C762 765 837 746 900 730C963 714 1057 682 1100 685C1143 688 1135 726 1160 745C1185 764 1277 784 1250 800C1223 816 1075 831 1000 842C925 853 867 861 800 866C733 871 625 880 600 872Z" fill="#74624f"/><path d="M600 858L1250 718M600 875L1250 735M600 893L1250 753M600 910L1250 770M600 924L1250 784M600 940L1250 800M600 958L1250 818M600 970L1250 830M600 989L1250 849" clip-path="url(#c2f)" fill="none" stroke="#4a3d33" stroke-width="4" opacity="0.5"/><path d="M1160 745C1152 756 1218 797 1250 800C1282 803 1325 775 1350 762C1375 749 1408 726 1400 722C1392 718 1340 731 1300 735C1260 739 1168 734 1160 745Z" fill="#5e4d40"/><path d="M520 800C527 790 570 757 600 740C630 723 692 697 700 700C708 703 673 743 650 760C627 777 582 793 560 800C538 807 513 810 520 800Z" fill="#7a6a5c"/><path d="M860 638L1420 518M860 670L1420 550M860 704L1420 584M860 740L1420 620M860 779L1420 659" clip-path="url(#c2b)" fill="none" stroke="#7c4a1e" stroke-width="6" opacity="0.35"/><path d="M1290 370C1282 353 1317 332 1330 310C1343 288 1353 260 1370 240C1387 220 1405 203 1430 190C1455 177 1488 165 1520 162C1552 159 1590 164 1620 170C1650 176 1677 188 1700 200C1723 212 1752 230 1760 245C1768 260 1750 278 1745 290C1740 302 1739 310 1730 318C1721 326 1703 327 1690 340C1677 353 1665 380 1650 395C1635 410 1618 421 1600 432C1582 443 1558 451 1540 462C1522 473 1505 502 1490 500C1475 498 1468 465 1450 450C1432 435 1407 423 1380 410C1353 397 1298 387 1290 370Z" fill="url(#b2head)"/><path d="M1440 340C1445 322 1470 302 1490 295C1510 288 1535 297 1560 300C1585 303 1613 315 1640 315C1667 315 1705 300 1720 300C1735 300 1735 310 1730 318C1725 326 1703 332 1690 345C1677 358 1665 380 1650 395C1635 410 1620 426 1600 432C1580 438 1553 436 1530 432C1507 428 1475 420 1460 405C1445 390 1435 358 1440 340Z" fill="#77787a"/><path d="M1640 270C1658 259 1728 257 1745 262C1762 267 1752 288 1745 300C1738 312 1718 330 1700 335C1682 340 1650 341 1640 330C1630 319 1622 281 1640 270Z" fill="#3f4145" filter="url(#sf2)"/><path d="M1470 262C1477 257 1515 244 1540 238C1565 232 1593 228 1620 228C1647 228 1678 232 1700 238C1722 244 1750 257 1750 262C1750 267 1718 271 1700 270C1682 269 1663 260 1640 258C1617 256 1583 256 1560 258C1537 260 1515 267 1500 268C1485 269 1463 267 1470 262Z" fill="#b9b7b0"/><path d="M1590 240C1590 235 1630 230 1650 230C1670 230 1693 235 1710 240C1727 245 1752 257 1750 262C1748 267 1717 271 1700 270C1683 269 1668 263 1650 258C1632 253 1590 245 1590 240Z" fill="#fafaf8"/><path d="M1745 250C1757 243 1783 244 1800 245C1817 246 1843 253 1860 258C1877 263 1914 272 1912 278C1910 284 1870 292 1850 297C1830 302 1798 308 1780 311C1762 314 1739 319 1730 316C1721 313 1720 300 1722 290C1724 280 1733 257 1745 250Z" fill="#2c2c2e"/><circle cx="1593" cy="281" r="36" fill="#2a1512"/><circle cx="1593" cy="281" r="30" fill="#8a2414"/><circle cx="1593" cy="281" r="17" fill="#120606"/><circle cx="1586" cy="272" r="6" fill="#fff"/></g>
<g transform="translate(2240 598) scale(0.13191)"><path d="M1010 1085C1028 1108 1082 1178 1120 1220C1158 1262 1218 1316 1238 1335" fill="none" stroke="#7f8498" stroke-width="26" stroke-linecap="butt" stroke-linejoin="round"/><path d="M1042 1085C1060 1108 1115 1180 1152 1220C1189 1260 1245 1310 1264 1328" fill="none" stroke="#a4a8b9" stroke-width="20" stroke-linecap="butt" stroke-linejoin="round"/><path d="M922 1302C928 1298 942 1281 955 1276C968 1271 976 1272 1000 1274C1024 1276 1065 1287 1100 1288C1135 1289 1192 1281 1210 1280" fill="none" stroke="#9398ac" stroke-width="18" stroke-linecap="round" stroke-linejoin="round"/><path d="M1210 1280C1225 1282 1275 1290 1300 1290C1325 1290 1341 1276 1360 1278C1379 1280 1403 1300 1412 1304" fill="none" stroke="#9398ac" stroke-width="17" stroke-linecap="round" stroke-linejoin="round"/><path d="M1240 1290C1249 1284 1283 1261 1292 1255" fill="none" stroke="#9398ac" stroke-width="18" stroke-linecap="round" stroke-linejoin="round"/><path d="M1042 1370C1048 1366 1065 1349 1080 1344C1095 1339 1103 1341 1130 1342C1157 1343 1203 1351 1240 1352C1277 1353 1332 1349 1350 1348" fill="none" stroke="#9a9fb2" stroke-width="18" stroke-linecap="round" stroke-linejoin="round"/><path d="M1350 1348C1363 1350 1408 1360 1430 1360C1452 1360 1463 1344 1480 1346C1497 1348 1522 1369 1530 1374" fill="none" stroke="#9a9fb2" stroke-width="17" stroke-linecap="round" stroke-linejoin="round"/><path d="M1350 1348C1358 1343 1392 1323 1400 1318" fill="none" stroke="#9a9fb2" stroke-width="18" stroke-linecap="round" stroke-linejoin="round"/><path d="M62 1040C64 1049 72 1082 100 1082C128 1082 202 1057 250 1042C298 1027 374 1000 420 982C466 964 527 936 560 922C593 908 619 904 640 892C661 880 690 860 700 840C710 820 717 768 705 760C693 752 651 776 620 790C589 804 540 832 500 850C460 868 398 890 350 910C302 930 219 964 180 980C141 996 108 1011 90 1020C72 1029 60 1031 62 1040Z" fill="url(#b3tail)"/><path d="M1520 820C1532 841 1490 878 1470 905C1450 932 1428 962 1400 985C1372 1008 1337 1028 1300 1045C1263 1062 1220 1076 1180 1085C1140 1094 1093 1100 1060 1100C1027 1100 1007 1097 980 1085C953 1073 897 1052 900 1030C903 1008 950 980 1000 950C1050 920 1133 878 1200 850C1267 822 1347 785 1400 780C1453 775 1508 799 1520 820Z" fill="#e3e3e6"/><path d="M1510 800C1519 822 1476 868 1455 895C1434 922 1412 944 1385 965C1358 986 1324 1005 1290 1020C1256 1035 1217 1047 1180 1055C1143 1063 1100 1067 1070 1066C1040 1065 1022 1061 1000 1050C978 1039 940 1020 940 1000C940 980 957 958 1000 930C1043 902 1133 858 1200 830C1267 802 1348 765 1400 760C1452 755 1501 778 1510 800Z" fill="#ffffff" filter="url(#sf2)"/><path d="M1380 400C1405 370 1423 418 1450 420C1477 422 1512 418 1540 410C1568 402 1593 382 1620 370C1647 358 1685 330 1700 335C1715 340 1711 378 1708 400C1705 422 1693 443 1682 470C1671 497 1653 530 1642 560C1631 590 1624 620 1614 650C1604 680 1594 715 1582 740C1570 765 1559 785 1545 800C1531 815 1524 828 1500 832C1476 836 1433 819 1400 822C1367 825 1333 839 1300 852C1267 865 1233 884 1200 902C1167 920 1133 945 1100 962C1067 979 1033 994 1000 1002C967 1010 933 1015 900 1012C867 1009 823 992 800 982C777 972 743 972 760 950C777 928 843 883 900 850C957 817 1033 792 1100 750C1167 708 1253 658 1300 600C1347 542 1355 430 1380 400Z" fill="url(#b3breast)"/><path d="M1530 840C1517 835 1455 843 1420 850C1385 857 1353 867 1320 880C1287 893 1253 912 1220 930C1187 948 1150 973 1120 990C1090 1007 1035 1022 1040 1030C1045 1038 1108 1045 1150 1040C1192 1035 1245 1018 1290 1000C1335 982 1385 950 1420 930C1455 910 1482 895 1500 880C1518 865 1543 845 1530 840Z" fill="#ffffff" filter="url(#sf)"/><path d="M780 960C783 943 855 921 900 905C945 889 1003 881 1050 865C1097 849 1145 821 1180 810C1215 799 1260 787 1260 800C1260 813 1220 861 1180 890C1140 919 1070 955 1020 975C970 995 920 1010 880 1008C840 1006 777 977 780 960Z" fill="#8f6b3e" filter="url(#sf2)" opacity="0.85"/><path d="M1500 140C1463 142 1430 157 1400 170C1370 183 1342 200 1320 220C1298 240 1287 268 1270 290C1253 312 1245 327 1220 350C1195 373 1157 402 1120 430C1083 458 1037 492 1000 520C963 548 933 572 900 600C867 628 830 662 800 690C770 718 745 740 720 770C695 800 672 838 650 870C628 902 601 938 590 960C579 982 575 998 585 1005C595 1012 621 1009 650 1000C679 991 718 967 760 950C802 933 852 915 900 900C948 885 1003 877 1050 860C1097 843 1142 822 1180 800C1218 778 1253 757 1280 730C1307 703 1325 668 1340 640C1355 612 1365 587 1370 560C1375 533 1368 507 1370 480C1372 453 1367 410 1380 400C1393 390 1423 418 1450 420C1477 422 1512 418 1540 410C1568 402 1593 382 1620 370C1647 358 1682 347 1700 335C1718 323 1718 312 1725 300C1732 288 1744 279 1740 262C1736 245 1720 218 1700 200C1680 182 1653 165 1620 155C1587 145 1537 138 1500 140Z" fill="url(#b3body)"/><path d="M585 1005C580 995 601 964 620 940C639 916 670 885 700 860C730 835 758 810 800 790C842 770 900 755 950 740C1000 725 1050 708 1100 700C1150 692 1212 698 1250 690C1288 682 1325 643 1330 650C1335 657 1305 705 1280 730C1255 755 1218 778 1180 800C1142 822 1097 843 1050 860C1003 877 948 885 900 900C852 915 802 933 760 950C718 967 679 991 650 1000C621 1009 590 1015 585 1005Z" fill="#6d5236"/><path d="M590 989L1100 759M590 1010L1100 780M590 1031L1100 801M590 1049L1100 819M590 1070L1100 840M590 1088L1100 858M590 1108L1100 878M590 1129L1100 899M590 1151L1100 921" clip-path="url(#c3w)" fill="none" stroke="#46341f" stroke-width="4" opacity="0.45"/><path d="M590 960C581 967 575 998 585 1005C595 1012 628 1006 650 1000C672 994 722 978 720 972C718 966 662 964 640 962C618 960 599 953 590 960Z" fill="#4e3c2a"/><path d="M1470 300C1472 284 1483 257 1500 245C1517 233 1545 227 1570 228C1595 229 1626 239 1650 250C1674 261 1708 279 1715 292C1722 305 1706 321 1690 330C1674 339 1645 342 1620 345C1595 348 1562 351 1540 350C1518 349 1502 346 1490 338C1478 330 1468 316 1470 300Z" fill="#8b8682" filter="url(#sf2)" opacity="0.7"/><path d="M1720 290C1732 283 1770 282 1790 283C1810 284 1834 290 1850 295C1866 300 1900 310 1897 315C1894 320 1851 328 1830 331C1809 334 1778 337 1760 337C1742 337 1716 338 1710 331C1704 324 1708 297 1720 290Z" fill="#2b2f35"/><circle cx="1545" cy="287" r="42" fill="#b4b4ba"/><circle cx="1545" cy="287" r="34" fill="#050505"/><ellipse cx="1537" cy="272" rx="14" ry="9" fill="#fff"/></g>
<g transform="translate(2240 900) scale(0.14510)"><path d="M890 585C908 576 922 586 910 605C898 624 852 668 820 700C788 732 750 770 720 800C690 830 665 855 640 880C615 905 588 941 570 950C552 959 522 952 530 935C538 918 592 879 620 850C648 821 670 792 700 760C730 728 768 689 800 660C832 631 872 594 890 585Z" fill="#fefefe" stroke="#e0e0e4" stroke-width="5"/><path d="M1335 1125C1352 1116 1364 1129 1352 1148C1340 1167 1290 1210 1260 1240C1230 1270 1198 1302 1170 1330C1142 1358 1112 1389 1090 1410C1068 1431 1056 1452 1040 1458C1024 1464 989 1463 996 1448C1003 1433 1053 1396 1080 1370C1107 1344 1132 1318 1160 1290C1188 1262 1221 1228 1250 1200C1279 1172 1318 1134 1335 1125Z" fill="#fefefe" stroke="#e0e0e4" stroke-width="5"/><circle cx="720" cy="795" r="12" fill="none" stroke="#d0d0d6" stroke-width="4"/><circle cx="1135" cy="1340" r="12" fill="none" stroke="#d0d0d6" stroke-width="4"/><path d="M210 715C230 692 273 662 300 650C327 638 370 628 370 640C370 652 322 693 300 720C278 747 257 780 240 800C223 820 212 835 200 842C188 849 168 849 165 840C162 831 172 811 180 790C188 769 190 738 210 715Z" fill="#3d4750"/><path d="M820 480C825 497 837 536 832 560C827 584 812 608 790 624C768 640 732 648 700 654C668 660 633 659 600 659C567 659 530 656 500 654C470 652 442 646 420 644C398 642 390 641 370 644C350 647 295 671 300 664C305 657 367 616 400 600C433 584 467 582 500 570C533 558 567 543 600 530C633 517 667 502 700 490C733 478 780 462 800 460C820 458 815 463 820 480Z" fill="url(#b4abelly)"/><path d="M510 655C532 654 593 653 640 652C687 651 765 649 790 648" fill="none" stroke="#8e7e84" stroke-width="17" stroke-linecap="round" stroke-linejoin="round"/><path d="M790 648C782 654 749 672 745 685C741 698 762 721 765 728" fill="none" stroke="#8e7e84" stroke-width="18" stroke-linecap="round" stroke-linejoin="round"/><path d="M500 712C510 722 539 750 560 770C581 790 614 824 625 835" fill="none" stroke="#8e7e84" stroke-width="18" stroke-linecap="round" stroke-linejoin="round"/><path d="M625 835C621 841 598 858 600 870C602 882 629 899 635 905" fill="none" stroke="#8e7e84" stroke-width="18" stroke-linecap="round" stroke-linejoin="round"/><path d="M615 230C628 229 639 248 660 250C681 252 713 247 740 245C767 243 793 243 820 240C847 237 877 230 900 225C923 220 945 209 960 210C975 211 990 220 992 232C994 244 982 262 975 280C968 298 957 317 950 340C943 363 940 397 935 420C930 443 928 462 920 480C912 498 902 515 890 530C878 545 860 567 850 572C840 577 832 572 827 560C822 548 824 513 820 500C816 487 820 478 800 480C780 482 733 498 700 510C667 522 633 537 600 550C567 563 533 580 500 590C467 600 433 602 400 612C367 622 328 637 300 652C272 667 245 689 230 700C215 711 206 726 208 718C210 710 225 676 240 650C255 624 278 590 300 560C322 530 345 500 370 470C395 440 423 408 450 380C477 352 508 321 530 300C552 279 566 267 580 255C594 243 602 231 615 230Z" fill="url(#b4abody)"/><path d="M460 430C472 410 510 380 540 360C570 340 603 320 640 310C677 300 728 295 760 300C792 305 820 320 830 340C840 360 832 398 820 420C808 442 790 455 760 470C730 485 680 502 640 510C600 518 548 525 520 520C492 515 480 495 470 480C460 465 448 450 460 430Z" fill="#b87838" opacity="0.6"/><path d="M230 689L800 379M230 713L800 403M230 739L800 429M230 762L800 452M230 784L800 474M230 812L800 502M230 836L800 526M230 856L800 546" clip-path="url(#c4f)" fill="none" stroke="#6e4418" stroke-width="5" opacity="0.45"/><path d="M300 640C320 628 377 590 420 570C463 550 520 533 560 520C600 507 643 495 660 490" fill="none" stroke="#33291f" stroke-width="9" stroke-linecap="round" stroke-linejoin="round" opacity="0.7"/><path d="M700 470C712 465 750 452 770 440C790 428 812 407 820 400" fill="none" stroke="#33291f" stroke-width="10" stroke-linecap="round" stroke-linejoin="round" opacity="0.7"/><path d="M615 230C612 215 628 182 640 160C652 138 668 117 690 100C712 83 742 68 770 60C798 52 832 50 860 52C888 54 917 64 940 75C963 86 985 106 1000 120C1015 134 1030 150 1030 162C1030 174 1012 182 1000 190C988 198 977 206 960 212C943 218 923 222 900 227C877 232 847 239 820 242C793 245 767 245 740 247C713 249 681 255 660 252C639 249 618 245 615 230Z" fill="#778488"/><path d="M1000 168C1011 160 1044 163 1060 163C1076 163 1095 167 1110 171C1125 175 1158 183 1157 188C1156 193 1118 202 1100 206C1082 210 1057 215 1040 216C1023 217 991 220 985 213C979 206 989 176 1000 168Z" fill="#3b3e44"/><circle cx="885" cy="156" r="49" fill="#b9a6b9"/><circle cx="885" cy="158" r="31" fill="#3d1c12"/><circle cx="885" cy="158" r="16" fill="#080404"/><circle cx="877" cy="148" r="6" fill="#fff"/><path d="M650 1255C667 1238 695 1241 720 1230C745 1219 793 1187 800 1190C807 1193 777 1228 760 1250C743 1272 720 1298 700 1320C680 1342 657 1369 640 1380C623 1391 603 1395 600 1387C597 1379 612 1352 620 1330C628 1308 633 1272 650 1255Z" fill="#2a323a"/><path d="M1230 1000C1263 1011 1293 1062 1300 1085C1307 1108 1287 1122 1270 1140C1253 1158 1228 1176 1200 1190C1172 1204 1133 1214 1100 1222C1067 1230 1033 1234 1000 1237C967 1240 930 1243 900 1242C870 1241 843 1230 820 1232C797 1234 777 1252 760 1252C743 1252 713 1249 720 1232C727 1215 770 1172 800 1150C830 1128 867 1115 900 1100C933 1085 967 1073 1000 1060C1033 1047 1062 1030 1100 1020C1138 1010 1197 989 1230 1000Z" fill="url(#b4bbelly)"/><path d="M950 1195C975 1194 1051 1193 1100 1192C1149 1191 1221 1189 1245 1188" fill="none" stroke="#8e7e84" stroke-width="17" stroke-linecap="round" stroke-linejoin="round"/><path d="M1245 1188C1237 1195 1202 1214 1198 1228C1194 1242 1215 1263 1218 1270" fill="none" stroke="#8e7e84" stroke-width="18" stroke-linecap="round" stroke-linejoin="round"/><path d="M940 1252C950 1262 979 1290 1000 1310C1021 1330 1054 1364 1065 1375" fill="none" stroke="#8e7e84" stroke-width="18" stroke-linecap="round" stroke-linejoin="round"/><path d="M1065 1375C1061 1381 1039 1399 1040 1410C1041 1421 1067 1437 1072 1442" fill="none" stroke="#8e7e84" stroke-width="18" stroke-linecap="round" stroke-linejoin="round"/><path d="M1100 800C1078 802 1053 818 1030 830C1007 842 982 853 960 870C938 887 920 908 900 930C880 952 860 975 840 1000C820 1025 800 1055 780 1080C760 1105 738 1128 720 1150C702 1172 682 1192 670 1210C658 1228 642 1251 650 1255C658 1259 695 1244 720 1232C745 1220 770 1199 800 1182C830 1165 867 1147 900 1132C933 1117 967 1104 1000 1092C1033 1080 1070 1072 1100 1062C1130 1052 1158 1042 1180 1032C1202 1022 1215 1016 1230 1002C1245 988 1262 967 1270 950C1278 933 1285 917 1280 900C1275 883 1260 863 1240 850C1220 837 1183 828 1160 820C1137 812 1122 798 1100 800Z" fill="url(#b4bwing)"/><path d="M660 1240L1240 900M660 1266L1240 926M660 1294L1240 954M660 1319L1240 979M660 1343L1240 1003M660 1373L1240 1033M660 1394L1240 1054" clip-path="url(#c4m)" fill="none" stroke="#1a2027" stroke-width="5" opacity="0.5"/><path d="M1240 850C1247 847 1296 872 1320 880C1344 888 1373 884 1382 897C1391 910 1380 938 1375 960C1370 982 1362 1009 1350 1030C1338 1051 1313 1082 1300 1087C1287 1092 1282 1074 1270 1060C1258 1046 1230 1020 1230 1002C1230 984 1262 967 1270 950C1278 933 1285 917 1280 900C1275 883 1233 853 1240 850Z" fill="#10171f"/><path d="M1100 760C1112 754 1145 763 1170 765C1195 767 1222 771 1250 770C1278 769 1315 764 1340 760C1365 756 1386 742 1400 745C1414 748 1423 764 1424 780C1425 796 1411 820 1404 840C1397 860 1396 892 1382 899C1368 906 1344 892 1320 884C1296 876 1267 864 1240 854C1213 844 1183 832 1160 824C1137 816 1110 815 1100 804C1090 793 1088 766 1100 760Z" fill="#fcfcfc"/><path d="M878 932C881 923 903 893 920 882C937 871 966 868 980 868C994 868 1007 873 1002 880C997 887 967 902 950 912C933 922 912 935 900 938C888 941 875 941 878 932Z" fill="#f8f8f8"/><path d="M1090 742C1092 728 1107 707 1120 690C1133 673 1150 654 1170 640C1190 626 1215 612 1240 605C1265 598 1295 594 1320 595C1345 596 1370 601 1390 610C1410 619 1426 636 1440 650C1454 664 1469 682 1472 692C1475 702 1472 703 1460 712C1448 721 1420 737 1400 745C1380 753 1365 758 1340 762C1315 766 1278 771 1250 772C1222 773 1193 767 1170 767C1147 767 1123 776 1110 772C1097 768 1088 756 1090 742Z" fill="url(#b4bhead)"/><path d="M1450 703C1465 696 1494 701 1510 703C1526 705 1547 712 1560 717C1573 722 1597 730 1594 735C1591 740 1559 746 1540 749C1521 752 1490 753 1470 753C1450 753 1413 754 1410 747C1407 740 1435 710 1450 703Z" fill="#33373d"/><circle cx="1325" cy="690" r="52" fill="#b9a6b9"/><circle cx="1325" cy="694" r="31" fill="#4a2113"/><circle cx="1325" cy="694" r="18" fill="#080404"/><circle cx="1317" cy="684" r="6" fill="#fff"/></g>
<g transform="translate(2240 1205) scale(0.14510)"><path d="M330 760C345 780 382 838 420 880C458 922 507 968 560 1010C613 1052 683 1097 740 1130C797 1163 850 1188 900 1210C950 1232 1017 1252 1040 1260" fill="none" stroke="#dcdce0" stroke-width="4" stroke-linecap="round" stroke-linejoin="round"/><path d="M400 715C412 729 458 786 470 800" fill="none" stroke="#d4d4d8" stroke-width="4" stroke-linecap="round" stroke-linejoin="round"/><path d="M690 1105C708 1108 762 1111 800 1120C838 1129 878 1146 920 1160C962 1174 1028 1198 1050 1205" fill="none" stroke="#dedee2" stroke-width="4" stroke-linecap="round" stroke-linejoin="round"/><path d="M700 1170C722 1182 787 1221 830 1240C873 1259 938 1278 960 1285" fill="none" stroke="#dedee2" stroke-width="4" stroke-linecap="round" stroke-linejoin="round"/><path d="M450 1040C460 1037 488 1078 500 1100C512 1122 510 1156 520 1170C530 1184 559 1169 562 1182C565 1195 550 1225 540 1250C530 1275 513 1308 500 1330C487 1352 472 1370 460 1380C448 1390 432 1402 425 1392C418 1382 419 1349 420 1320C421 1291 427 1253 430 1220C433 1187 437 1150 440 1120C443 1090 440 1043 450 1040Z" fill="#1b3ba2"/><path d="M1050 480C1070 460 1106 470 1120 480C1134 490 1137 517 1137 540C1137 563 1130 590 1120 620C1110 650 1095 690 1080 720C1065 750 1048 773 1030 800C1012 827 990 853 970 880C950 907 927 933 910 960C893 987 881 1017 870 1040C859 1063 857 1088 842 1100C827 1112 804 1112 780 1112C756 1112 723 1100 700 1102C677 1104 657 1112 640 1122C623 1132 613 1159 600 1162C587 1165 557 1162 560 1142C563 1122 587 1080 620 1040C653 1000 713 950 760 900C807 850 860 790 900 740C940 690 975 643 1000 600C1025 557 1030 500 1050 480Z" fill="url(#b5belly)"/><path d="M830 1100C838 1104 865 1114 880 1125C895 1136 915 1158 922 1165" fill="none" stroke="#f0602a" stroke-width="22" stroke-linecap="round" stroke-linejoin="round"/><path d="M850 1120C843 1127 819 1145 810 1160C801 1175 792 1196 795 1210C798 1224 818 1238 830 1245C842 1252 858 1253 864 1255" fill="none" stroke="#f0602a" stroke-width="19" stroke-linecap="round" stroke-linejoin="round"/><path d="M675 1115C678 1121 686 1142 690 1150C694 1158 700 1163 702 1166" fill="none" stroke="#e8642a" stroke-width="18" stroke-linecap="round" stroke-linejoin="round"/><path d="M700 440C690 425 713 380 720 350C727 320 730 287 740 260C750 233 762 212 780 190C798 168 823 145 850 130C877 115 908 104 940 100C972 96 1008 100 1040 105C1072 110 1103 119 1130 130C1157 141 1180 157 1200 170C1220 183 1243 198 1250 210C1257 222 1255 227 1240 240C1225 253 1180 275 1160 290C1140 305 1133 317 1120 330C1107 343 1093 357 1080 370C1067 383 1053 400 1040 410C1027 420 1017 432 1000 432C983 432 965 414 940 412C915 410 877 417 850 422C823 427 805 439 780 442C755 445 710 455 700 440Z" fill="url(#b5head)"/><g clip-path="url(#c5h)"><path d="M725 270C735 252 759 234 780 225C801 216 829 211 850 215C871 219 894 234 905 250C916 266 920 291 915 310C910 329 892 351 875 365C858 379 831 392 810 395C789 398 765 391 750 380C735 369 726 348 722 330C718 312 715 288 725 270Z" fill="url(#b5purple)" filter="url(#sf)" opacity="0.75"/></g><path d="M900 150l14 6M940 135l12 8M860 185l14 5M880 225l14 6M820 230l14 6M930 190l14 6M800 300l14 6M860 330l14 6M780 350l14 6M850 270l16 6" stroke="#f2c0f2" stroke-width="8" stroke-linecap="round" opacity="0.85"/><path d="M1130 330C1150 322 1173 321 1200 320C1227 319 1290 316 1290 325C1290 334 1223 356 1200 372C1177 388 1163 404 1150 422C1137 440 1135 477 1122 482C1109 487 1090 460 1070 452C1050 444 1005 439 1000 432C995 425 1027 420 1040 410C1053 400 1065 383 1080 370C1095 357 1110 338 1130 330Z" fill="#fbfbfb"/><path d="M1292 330C1277 337 1224 358 1200 374C1176 390 1162 406 1150 424C1138 442 1130 472 1126 482" fill="none" stroke="#d6d6dc" stroke-width="7" stroke-linecap="round" stroke-linejoin="round" filter="url(#sf2)"/><path d="M765 405C768 398 798 383 820 380C842 377 880 382 900 385C920 388 945 395 942 400C939 405 904 411 880 414C856 417 819 422 800 420C781 418 762 412 765 405Z" fill="#fbf6ee"/><path d="M700 440C723 430 755 443 780 440C805 437 837 415 850 420C863 425 847 458 860 470C873 482 907 492 930 490C953 488 980 462 1000 460C1020 458 1040 463 1050 480C1060 497 1064 533 1062 560C1060 587 1050 613 1040 640C1030 667 1017 693 1000 720C983 747 963 773 940 800C917 827 887 855 860 880C833 905 807 928 780 950C753 972 727 988 700 1010C673 1032 643 1058 620 1080C597 1102 577 1125 560 1140C543 1155 530 1179 520 1172C510 1165 512 1122 500 1100C488 1078 463 1055 450 1040C437 1025 423 1027 420 1010C417 993 422 972 430 940C438 908 455 860 470 820C485 780 502 738 520 700C538 662 560 623 580 590C600 557 620 525 640 500C660 475 677 450 700 440Z" fill="url(#b5blue)"/><path d="M930 490C950 470 980 462 1000 460C1020 458 1040 463 1050 480C1060 497 1064 533 1062 560C1060 587 1050 613 1040 640C1030 667 1017 693 1000 720C983 747 963 773 940 800C917 827 887 855 860 880C833 905 807 928 780 950C753 972 727 988 700 1010C673 1032 643 1058 620 1080C597 1102 577 1125 560 1140C543 1155 530 1179 520 1172C510 1165 500 1129 500 1100C500 1071 503 1033 520 1000C537 967 567 933 600 900C633 867 683 835 720 800C757 765 793 727 820 690C847 653 862 613 880 580C898 547 910 510 930 490Z" fill="url(#b5wing)"/><path d="M520 1119L1040 559M520 1152L1040 592M520 1177L1040 617M520 1210L1040 650M520 1236L1040 676M520 1271L1040 711" clip-path="url(#c5w)" fill="none" stroke="#16205e" stroke-width="6" opacity="0.45"/><path d="M520 1172C528 1177 543 1155 560 1140C577 1125 597 1102 620 1080C643 1058 673 1032 700 1010C727 988 753 972 780 950C807 928 840 902 860 880C880 858 903 828 900 820C897 812 863 824 840 835C817 846 787 867 760 885C733 903 707 925 680 945C653 965 623 985 600 1005C577 1025 555 1047 540 1065C525 1083 513 1094 510 1112C507 1130 512 1167 520 1172Z" fill="#3a2c2e"/><path d="M420 1010C417 993 422 968 430 940C438 912 458 853 470 840C482 827 500 842 500 860C500 878 478 920 470 950C462 980 458 1030 450 1040C442 1050 423 1027 420 1010Z" fill="#3a4066"/><path d="M850 420C837 430 847 458 860 470C873 482 907 492 930 490C953 488 990 469 1000 460C1010 451 1000 443 990 435C980 427 963 414 940 412C917 410 863 410 850 420Z" fill="#e0872e"/><path d="M1000 242Q1010 205 1050 203Q1090 205 1105 222Q1125 185 1165 174Q1212 168 1242 196Q1260 215 1252 234L1235 250L1180 292L1100 294L1030 286Q1000 270 1000 242Z" fill="#0b0909"/><path d="M1112 238Q1150 212 1200 222Q1230 230 1240 240L1180 275L1126 278Q1105 260 1112 238Z" fill="#ee942c"/><ellipse cx="1050" cy="244" rx="48" ry="38" fill="#070707"/><ellipse cx="1045" cy="229" rx="26" ry="10" fill="#fff" opacity="0.8" transform="rotate(-6 1045 229)"/><path d="M1150 278L1240 228L1300 235L1400 247L1500 260L1600 273Q1650 280 1645 286Q1640 294 1600 302L1500 313L1400 320L1300 322L1220 316L1160 300Z" fill="url(#b5beak)"/><path d="M1160 290C1183 290 1252 292 1300 292C1348 292 1393 293 1450 292C1507 291 1608 286 1640 285" fill="none" stroke="#d04a1c" stroke-width="6" stroke-linecap="round" stroke-linejoin="round" opacity="0.7"/></g>
<text class="cap" x="2369.50" y="227.60" textLength="165.3" lengthAdjust="spacingAndGlyphs">Terpsiphone</text>
<text class="cap" x="2369.20" y="262.20" textLength="124.3" lengthAdjust="spacingAndGlyphs">rufiventer</text>
<text class="cap" x="2370.20" y="523.50" textLength="171.0" lengthAdjust="spacingAndGlyphs">Chamaetylas</text>
<text class="cap" x="2369.70" y="559.10" textLength="168.6" lengthAdjust="spacingAndGlyphs">poliocephala</text>
<text class="cap" x="2369.40" y="822.00" textLength="152.4" lengthAdjust="spacingAndGlyphs">Sheppardia</text>
<text class="cap" x="2369.70" y="857.60" textLength="174.9" lengthAdjust="spacingAndGlyphs">cyornithopsis</text>
<text class="cap" x="2370.70" y="1143.30" textLength="136.0" lengthAdjust="spacingAndGlyphs">Platysteira</text>
<text class="cap" x="2370.40" y="1178.90" textLength="117.8" lengthAdjust="spacingAndGlyphs">castanea</text>
<text class="cap" x="2370.40" y="1444.20" textLength="213.7" lengthAdjust="spacingAndGlyphs">Ispidina lecontei</text>
</svg></body></html>
